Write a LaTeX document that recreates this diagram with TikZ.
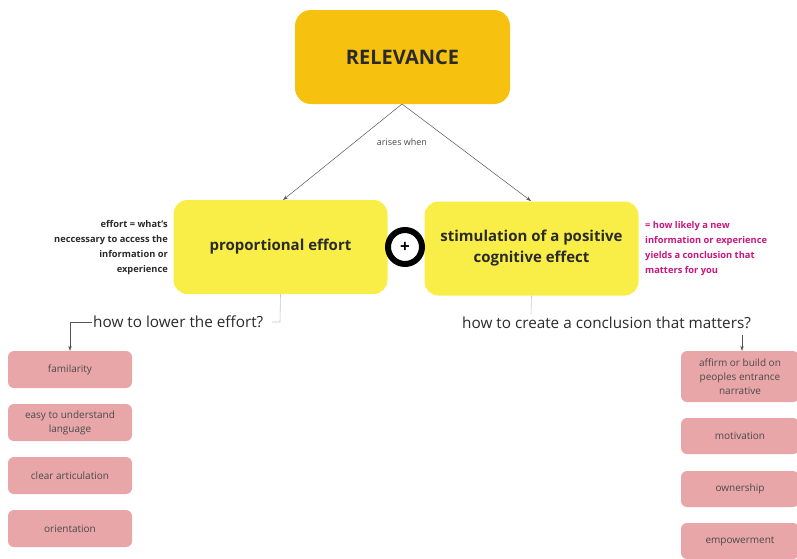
\documentclass[tikz,border=0pt]{standalone}
\usepackage{fontspec}
\setmainfont{Open Sans}
\usetikzlibrary{arrows.meta}
\definecolor{gold}{HTML}{F6C20F}
\definecolor{yel}{HTML}{F9EE47}
\definecolor{pinkbox}{HTML}{E9A6A9}
\definecolor{mag}{HTML}{C8167E}
\definecolor{txt}{HTML}{2A2A2A}
\definecolor{ln}{HTML}{555555}
\definecolor{lightln}{HTML}{C8C8C8}
\tikzset{
  mainbox/.style={fill=gold, rounded corners=16pt, minimum width=215pt, minimum height=94pt, text=txt, font=\bfseries\fontsize{20}{24}\selectfont},
  ybox/.style={fill=yel, rounded corners=14pt, minimum width=214pt, minimum height=94pt, text=txt, font=\bfseries\fontsize{15}{21}\selectfont, align=center},
  pbox/.style={fill=pinkbox, rounded corners=6pt, minimum width=124pt, text=txt!85, font=\fontsize{10}{14}\selectfont, align=center},
  conn/.style={draw=ln, line width=0.5pt, -{Stealth[length=5pt,width=3.5pt]}},
  light/.style={draw=lightln, line width=0.6pt},
  question/.style={text=txt, font=\fontsize{15.3}{18}\selectfont, inner sep=1pt},
  note/.style={font=\bfseries\fontsize{9.3}{15}\selectfont, align=left, inner sep=0pt}
}
\begin{document}
\begin{tikzpicture}[x=1pt,y=-1pt]
\useasboundingbox (0,0) rectangle (797,558);
\node[mainbox] (rel) at (402.5,57) {RELEVANCE};
\node[ybox] (pe) at (280.5,247) {proportional effort};
\node[ybox] (st) at (531.5,248.5) {stimulation of a positive\\cognitive effect};
\node[draw=black, line width=6pt, circle, minimum size=34pt, fill=white, inner sep=0pt, font=\bfseries\fontsize{17}{17}\selectfont] (plus) at (405,247) {+};
\coordinate (top) at (402,104);
\draw[conn] (top) -- (283,200);
\draw[conn] (top) -- (531,201);
\node[text=txt!85, font=\fontsize{9}{10}\selectfont, fill=white, inner sep=1pt] (arises) at (402,142) {arises when};
\node[note, align=right, anchor=east, text=txt] (effnote) at (168,248) {effort = what's\\neccessary to access the\\information or\\experience};
\node[note, anchor=west, text=mag] (stnote) at (645,249) {= how likely a new\\information or experience\\yields a conclusion that\\matters for you};
% left branch
\node[question, anchor=west] (q1) at (92,322) {how to lower the effort?};
\node[pbox, minimum height=37pt] (f1) at (70,369.5) {familarity};
\node[pbox, minimum height=37pt] (f2) at (70,422.5) {easy to understand\\language};
\node[pbox, minimum height=37pt] (f3) at (70,475.5) {clear articulation};
\node[pbox, minimum height=37pt] (f4) at (70,528.5) {orientation};
\coordinate (c1) at (280,322);
\draw[light] (pe.south) -- (c1) -- (272,322);
\draw[conn] (q1.west) -- (70,322) -- (f1.north);
% right branch
\node[question, anchor=west] (q2) at (461,323) {how to create a conclusion that matters?};
\draw[light] (st.south) -- (531,314);
\node[pbox, minimum height=51pt, minimum width=118pt] (g1) at (740,376.5) {affirm or build on\\peoples entrance\\narrative};
\node[pbox, minimum height=36pt, minimum width=118pt] (g2) at (740,436) {motivation};
\node[pbox, minimum height=36pt, minimum width=118pt] (g3) at (740,489) {ownership};
\node[pbox, minimum height=36pt, minimum width=118pt] (g4) at (740,541) {empowerment};
\coordinate (q2a) at (742,335);
\draw[conn] (q2a) -- (g1.north -| q2a);
\end{tikzpicture}
\end{document}
